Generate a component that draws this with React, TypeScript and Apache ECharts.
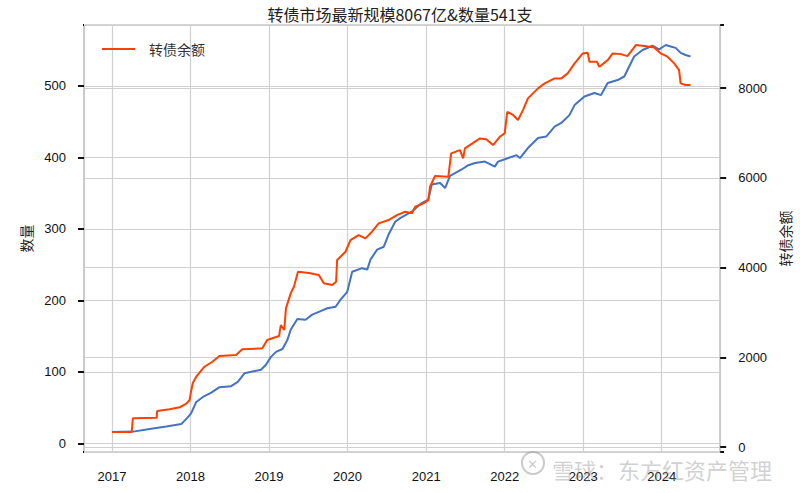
import React, { useEffect, useRef } from "react";
import * as echarts from "echarts";

// 转债余额 (亿元) — right axis
const BAL_DATES = [
  "2017-01-01", "2017-04-03", "2017-04-08", "2017-07-28", "2017-07-30", "2017-09-26", "2017-11-12",
  "2017-12-14", "2017-12-28", "2018-01-02", "2018-01-12", "2018-01-28", "2018-03-07", "2018-04-13",
  "2018-05-16", "2018-08-01", "2018-08-30", "2018-12-01", "2018-12-24", "2019-02-17", "2019-02-25",
  "2019-03-13", "2019-03-21", "2019-04-12", "2019-04-27", "2019-05-16", "2019-07-06", "2019-08-21",
  "2019-09-13", "2019-10-22", "2019-11-09", "2019-11-14", "2019-12-23", "2020-01-15", "2020-02-22",
  "2020-03-24", "2020-04-24", "2020-05-25", "2020-07-10", "2020-08-18", "2020-09-25", "2020-10-26",
  "2020-11-11", "2020-12-19", "2021-01-11", "2021-01-19", "2021-02-11", "2021-04-14", "2021-04-27",
  "2021-06-07", "2021-06-22", "2021-06-30", "2021-09-08", "2021-10-07", "2021-11-08", "2021-12-09",
  "2022-01-01", "2022-01-13", "2022-02-09", "2022-03-04", "2022-03-27", "2022-04-19", "2022-06-05",
  "2022-07-06", "2022-08-21", "2022-09-21", "2022-10-21", "2022-11-22", "2022-12-30", "2023-01-22",
  "2023-01-30", "2023-03-06", "2023-03-17", "2023-04-25", "2023-05-18", "2023-06-25", "2023-07-26",
  "2023-09-03", "2023-10-12", "2023-11-27", "2023-12-28", "2024-01-28", "2024-02-28", "2024-03-22",
  "2024-03-29", "2024-04-21", "2024-05-14",
];
const BAL = [
  334, 334, 639, 650, 802, 840, 884,
  973, 1047, 1196, 1426, 1566, 1789, 1900,
  2027, 2050, 2177, 2199, 2384, 2473, 2718,
  2607, 3090, 3424, 3572, 3906, 3880, 3832,
  3647, 3609, 3683, 4166, 4351, 4612, 4723,
  4650, 4797, 4984, 5058, 5169, 5243, 5207,
  5354, 5430, 5503, 5800, 6040, 6022, 6543,
  6617, 6432, 6654, 6877, 6860, 6728, 6913,
  6989, 7470, 7400, 7286, 7508, 7769, 7992,
  8103, 8214, 8214, 8326, 8548, 8771, 8785,
  8585, 8585, 8473, 8622, 8771, 8755, 8711,
  8956, 8935, 8905, 8771, 8697, 8548, 8400,
  8103, 8066, 8067,
];

// 数量 (支) — left axis
const CNT_DATES = [
  "2017-01-01", "2017-04-10", "2017-06-25", "2017-09-11", "2017-11-19", "2017-12-15", "2018-01-04",
  "2018-01-28", "2018-02-28", "2018-04-08", "2018-05-16", "2018-07-09", "2018-08-09", "2018-09-09",
  "2018-11-25", "2018-12-18", "2019-01-10", "2019-02-03", "2019-03-05", "2019-03-28", "2019-04-12",
  "2019-05-13", "2019-06-20", "2019-07-21", "2019-08-21", "2019-09-29", "2019-11-07", "2019-11-30",
  "2019-12-31", "2020-01-23", "2020-03-09", "2020-04-02", "2020-04-17", "2020-05-18", "2020-06-18",
  "2020-07-10", "2020-08-10", "2020-09-02", "2020-10-26", "2020-12-11", "2021-01-11", "2021-01-27",
  "2021-03-07", "2021-03-30", "2021-04-22", "2021-06-15", "2021-07-16", "2021-08-16", "2021-10-01",
  "2021-11-16", "2021-12-01", "2022-01-18", "2022-02-25", "2022-03-13", "2022-04-19", "2022-06-05",
  "2022-07-13", "2022-08-21", "2022-09-21", "2022-10-29", "2022-11-22", "2023-01-07", "2023-02-22",
  "2023-03-25", "2023-04-25", "2023-06-10", "2023-07-11", "2023-08-03", "2023-08-26", "2023-10-04",
  "2023-11-19", "2023-12-20", "2024-01-20", "2024-02-12", "2024-03-06", "2024-03-29", "2024-04-21",
  "2024-05-14",
];
const CNT = [
  16, 16.5, 20, 23.5, 27, 35, 42,
  58, 65, 71, 78.6, 80, 86, 98,
  103, 110, 121, 128, 132, 145, 159,
  174, 173, 180, 184, 189, 191, 201,
  212, 240, 245, 243, 257, 271, 275,
  292, 310, 315, 324, 336, 341, 362,
  364, 357, 374, 383, 389, 392, 394,
  387, 394, 399, 403, 399, 413, 427,
  429, 443, 448, 459, 473, 485, 490,
  487, 504, 508, 513, 527, 541, 550,
  556, 551, 557, 555, 553, 546, 543,
  541,
];

const LEFT_TICKS = [0, 100, 200, 300, 400, 500];
const RIGHT_TICKS = [0, 2000, 4000, 6000, 8000];

const TITLE = "转债市场最新规模8067亿&数量541支";
const LEFT_NAME = "数量";
const RIGHT_NAME = "转债余额";
const WATERMARK = "雪球：东方红资产管理";

const CJK = '"Noto Sans CJK SC", "Liberation Sans", sans-serif';
const NUM = '"Liberation Sans", Arial, sans-serif';

const YEAR_MS = 365 * 24 * 3600 * 1000;

export default function App() {
  const ref = useRef<HTMLDivElement>(null);

  useEffect(() => {
    if (!ref.current) return;
    const chart = echarts.init(ref.current, undefined, { renderer: "svg" });
    const gridLine = { show: true, lineStyle: { color: "#d0d0d0", width: 1.2 } };
    const frameLine = { show: true, lineStyle: { color: "#c8c8c8", width: 1.5 } };
    const cover = (x: number, y: number) => ({
      type: "rect",
      shape: { x, y, width: 8, height: 6 },
      style: { fill: "#ffffff" },
      z: 50,
    });

    chart.setOption({
      animation: false,
      backgroundColor: "#ffffff",
      title: {
        text: TITLE,
        left: "center",
        top: 1,
        textStyle: { fontFamily: CJK, fontSize: 16, fontWeight: "normal", color: "#222" },
      },
      legend: {
        data: [{ name: RIGHT_NAME, icon: "rect" }],
        left: 97,
        top: 37,
        itemWidth: 33,
        itemHeight: 2,
        textStyle: { fontFamily: CJK, fontSize: 14, color: "#333", padding: [0, 0, 0, 9] },
      },
      grid: {
        left: 84,
        right: 77,
        top: 25,
        bottom: 41,
        show: true,
        borderColor: "#c8c8c8",
        borderWidth: 1.5,
        containLabel: false,
      },
      xAxis: {
        type: "time",
        min: +new Date(2016, 7, 24),
        max: +new Date(2024, 8, 29),
        minInterval: YEAR_MS,
        maxInterval: YEAR_MS * 1.01,
        splitNumber: 8,
        axisLine: { show: false },
        axisTick: { show: false },
        axisLabel: {
          formatter: "{yyyy}",
          showMinLabel: false,
          showMaxLabel: false,
          fontFamily: NUM,
          fontSize: 13,
          color: "#111",
          margin: 18,
        },
        splitLine: gridLine,
      },
      yAxis: [
        {
          type: "value",
          min: -12,
          max: 585,
          name: LEFT_NAME,
          nameLocation: "middle",
          nameGap: 51,
          nameRotate: 90,
          nameTextStyle: { fontFamily: CJK, fontSize: 14, color: "#222" },
          axisLine: frameLine,
          axisTick: {
            show: true,
            inside: false,
            length: 6,
            lineStyle: { color: "#111", width: 2 },
          },
          axisLabel: {
            customValues: LEFT_TICKS,
            formatter: (v: number) => String(v),
            fontFamily: NUM,
            fontSize: 13,
            color: "#111",
            margin: 18,
          },
          splitLine: gridLine,
        },
        {
          type: "value",
          min: -111,
          max: 9404,
          position: "right",
          name: RIGHT_NAME,
          nameLocation: "middle",
          nameGap: 53,
          nameRotate: 90,
          nameTextStyle: { fontFamily: CJK, fontSize: 14, color: "#222" },
          axisLine: frameLine,
          axisTick: {
            show: true,
            inside: false,
            length: 6,
            lineStyle: { color: "#111", width: 2 },
          },
          axisLabel: {
            customValues: RIGHT_TICKS,
            formatter: (v: number) => String(v),
            fontFamily: NUM,
            fontSize: 13,
            color: "#111",
            margin: 18,
          },
          splitLine: gridLine,
        },
      ],
      series: [
        {
          name: LEFT_NAME,
          type: "line",
          yAxisIndex: 0,
          showSymbol: false,
          symbol: "none",
          data: CNT_DATES.map((d, i) => [d, CNT[i]]),
          lineStyle: { color: "#4472C4", width: 2 },
          itemStyle: { color: "#4472C4" },
        },
        {
          name: RIGHT_NAME,
          type: "line",
          yAxisIndex: 1,
          showSymbol: false,
          symbol: "none",
          data: BAL_DATES.map((d, i) => [d, BAL[i]]),
          lineStyle: { color: "#FF4000", width: 2 },
          itemStyle: { color: "#FF4000" },
        },
      ],
      graphic: [
        cover(75, 449),
        cover(75, 22),
        cover(724, 449),
        cover(724, 22),
        {
          type: "circle",
          shape: { cx: 533, cy: 463, r: 11 },
          style: { fill: "none", stroke: "rgba(150,150,150,0.5)", lineWidth: 2 },
          z: 100,
        },
        {
          type: "text",
          x: 527,
          y: 463,
          style: {
            text: "✕",
            fill: "rgba(150,150,150,0.5)",
            fontSize: 13,
            fontFamily: CJK,
            verticalAlign: "middle",
          },
          z: 100,
        },
        {
          type: "text",
          x: 552,
          y: 469,
          style: {
            text: WATERMARK,
            fill: "rgba(150,150,150,0.45)",
            fontSize: 22,
            fontFamily: CJK,
            verticalAlign: "middle",
          },
          z: 100,
        },
      ],
    });
    return () => chart.dispose();
  }, []);

  return (
    <div
      ref={ref}
      style={{ position: "absolute", left: 0, top: 0, width: 800, height: 493 }}
    />
  );
}
